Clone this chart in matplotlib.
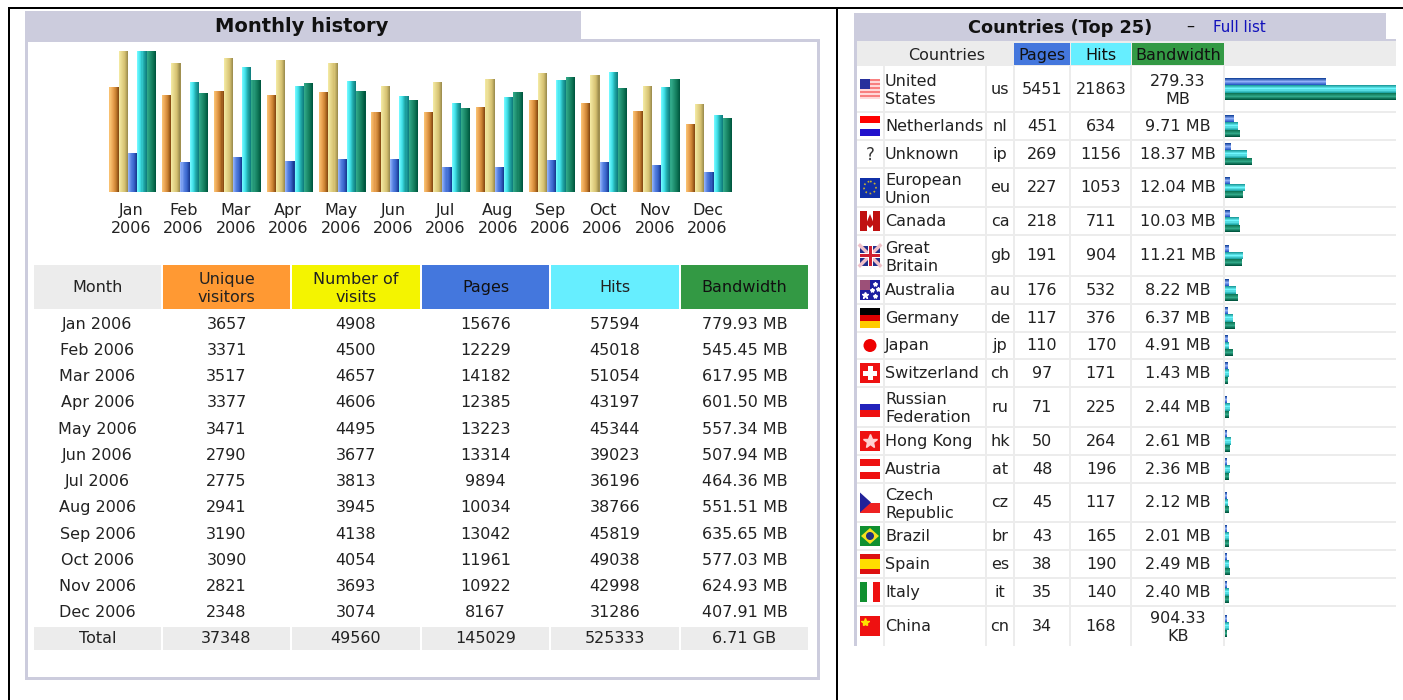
import numpy as np
import matplotlib
matplotlib.use("Agg")
import matplotlib.pyplot as plt
from matplotlib.colors import LinearSegmentedColormap
from matplotlib.patches import Rectangle, Polygon, Circle

W, H = 1403, 700

months = ["Jan", "Feb", "Mar", "Apr", "May", "Jun", "Jul", "Aug", "Sep", "Oct", "Nov", "Dec"]
visitors = [3657, 3371, 3517, 3377, 3471, 2790, 2775, 2941, 3190, 3090, 2821, 2348]
visits = [4908, 4500, 4657, 4606, 4495, 3677, 3813, 3945, 4138, 4054, 3693, 3074]
pages = [15676, 12229, 14182, 12385, 13223, 13314, 9894, 10034, 13042, 11961, 10922, 8167]
hits = [57594, 45018, 51054, 43197, 45344, 39023, 36196, 38766, 45819, 49038, 42998, 31286]
bandwidth = [779.93, 545.45, 617.95, 601.50, 557.34, 507.94, 464.36, 551.51, 635.65, 577.03, 624.93, 407.91]
totals = ["37348", "49560", "145029", "525333", "6.71 GB"]

countries = ["United\nStates", "Netherlands", "Unknown", "European\nUnion", "Canada", "Great\nBritain",
             "Australia", "Germany", "Japan", "Switzerland", "Russian\nFederation", "Hong Kong",
             "Austria", "Czech\nRepublic", "Brazil", "Spain", "Italy", "China"]
codes = ["us", "nl", "ip", "eu", "ca", "gb", "au", "de", "jp", "ch", "ru", "hk", "at", "cz", "br", "es", "it", "cn"]
c_pages = [5451, 451, 269, 227, 218, 191, 176, 117, 110, 97, 71, 50, 48, 45, 43, 38, 35, 34]
c_hits = [21863, 634, 1156, 1053, 711, 904, 532, 376, 170, 171, 225, 264, 196, 117, 165, 190, 140, 168]
c_bw = [279.33, 9.71, 18.37, 12.04, 10.03, 11.21, 8.22, 6.37, 4.91, 1.43, 2.44, 2.61, 2.36, 2.12, 2.01, 2.49, 2.40, 0.883]
c_bw_labels = ["279.33\nMB", "9.71 MB", "18.37 MB", "12.04 MB", "10.03 MB", "11.21 MB", "8.22 MB", "6.37 MB",
               "4.91 MB", "1.43 MB", "2.44 MB", "2.61 MB", "2.36 MB", "2.12 MB", "2.01 MB", "2.49 MB", "2.40 MB",
               "904.33\nKB"]

# layout, pixels
row_edges = [66, 112, 140, 168, 207, 235, 276, 304, 332, 359, 387, 427, 455, 483, 522, 550, 578, 606, 646]
month_cols = [(34, 161), (163, 290), (292, 420), (422, 549), (551, 679), (681, 808)]
month_rows_y = [324, 350, 376, 402, 429, 455, 481, 507, 534, 560, 586, 612]
LAV = "#CCCCDD"
GREY = "#ECECEC"
TXT = "#222222"
FS = 11.5
LS = 1.27

fig = plt.figure(figsize=(W / 100, H / 100), dpi=100)
ax = fig.add_axes([0, 0, 1, 1])
ax.set_xlim(0, W)
ax.set_ylim(H, 0)
ax.axis("off")


def rect(x0, y0, x1, y1, color, z=1):
    ax.add_patch(Rectangle((x0, y0), x1 - x0, y1 - y0, fc=color, ec="none", zorder=z))


def label(x, y, s, ha="center", size=FS, color=TXT, weight="normal"):
    # center_baseline so that descenders do not shift a row up or down
    ax.text(x, y - 1.3, s, ha=ha, va="center_baseline", fontsize=size, color=color, fontweight=weight, zorder=5,
            linespacing=LS)


def sub_axes(x0, y0, x1, y1):
    a = fig.add_axes([x0 / W, 1 - y1 / H, (x1 - x0) / W, (y1 - y0) / H])
    a.patch.set_alpha(0)
    for s in a.spines.values():
        s.set_visible(False)
    a.set_yticks([])
    a.set_xticks([])
    return a


# frame
rect(8, 7, W, 9, "black")
rect(8, 7, 10, H, "black")
rect(836, 7, 838, H, "black")

# left panel
rect(25, 11, 581, 41, LAV)
rect(25, 39, 820, 42, LAV)
rect(25, 39, 28, 680, LAV)
rect(817, 39, 820, 680, LAV)
rect(25, 677, 820, 680, LAV)
label(302, 26, "Monthly history", size=14, color="#111111", weight="bold")

# monthly bars, one scale per unit like the original
n_slices = 9
bar_w = 9.3 / 52.4
bar_series = [
    (visitors, 4908, ["#F8C070", "#E8A050", "#C88030", "#8A4C14"]),
    (visits, 4908, ["#F2E8A0", "#E4D488", "#D4C070", "#A09050"]),
    (pages, 57594, ["#90B0F8", "#5580E0", "#3A66CC", "#1A3C94"]),
    (hits, 57594, ["#70F8FF", "#40E0E8", "#20A8A8", "#108080"]),
    (bandwidth, 779.93, ["#30A888", "#209070", "#107858", "#005840"]),
]
ax_bar = sub_axes(106.55, 51, 735.15, 191.5)
ax_bar.set_xlim(-0.5, 11.5)
ax_bar.set_ylim(0, 1)
for k, (vals, top, stops) in enumerate(bar_series):
    cmap = LinearSegmentedColormap.from_list("b", stops)
    v = np.array(vals) / top
    for s in range(n_slices):
        xpos = np.arange(12) + (k - 2) * bar_w + (s + 0.5 - n_slices / 2) * bar_w / n_slices
        ax_bar.bar(xpos, v, width=bar_w / n_slices * 1.05, color=cmap(s / (n_slices - 1)), lw=0)
ax_bar.set_xticks(np.arange(12) - 0.03)
ax_bar.set_xticklabels([m + "\n2006" for m in months], fontsize=FS, color=TXT, linespacing=LS)
ax_bar.tick_params(axis="x", length=0, pad=8)

# monthly table
head = [("Month", GREY, TXT), ("Unique\nvisitors", "#FF9933", TXT), ("Number of\nvisits", "#F4F400", TXT),
        ("Pages", "#4477DD", "#111111"), ("Hits", "#66EEFF", TXT), ("Bandwidth", "#339944", "#111111")]
for (x0, x1), (txt, col, tc) in zip(month_cols, head):
    rect(x0, 265, x1, 309, col)
    label((x0 + x1) / 2, 287, txt, color=tc)
    rect(x0, 627, x1, 650, GREY)
cx = [(a + b) / 2 for a, b in month_cols]
for i, y in enumerate(month_rows_y):
    label(cx[0], y, months[i] + " 2006")
    label(cx[1], y, str(visitors[i]))
    label(cx[2], y, str(visits[i]))
    label(cx[3], y, str(pages[i]))
    label(cx[4], y, str(hits[i]))
    label(cx[5], y, "%.2f MB" % bandwidth[i])
label(cx[0], 638, "Total")
for c, t in zip(cx[1:], totals):
    label(c, 638, t)

# right panel
rect(854, 13, 1386, 41, LAV)
rect(1386, 39, W - 7, 41, LAV)
rect(854, 13, 857, 646, LAV)
label(968, 27, "Countries (Top 25)", ha="left", size=12.8, color="#111111", weight="bold")
label(1190, 26, "–", color="#111111")
label(1213, 27, "Full list", ha="left", size=10.8, color="#1111BB")
rect(857, 41, 1396, 66, GREY)
rect(1014, 43, 1070, 65, "#4477DD")
rect(1071, 43, 1131, 65, "#66EEFF")
rect(1132, 43, 1224, 65, "#339944")
label(947, 55, "Countries")
label(1042, 55, "Pages", color="#111111")
label(1101, 55, "Hits", color="#111111")
label(1178, 55, "Bandwidth", color="#111111")

for xv in [884, 986, 1014, 1070, 1131, 1224]:
    rect(xv - 0.6, 66, xv + 0.6, 646, GREY)
for i in range(len(codes)):
    y0, y1 = row_edges[i], row_edges[i + 1]
    yc = (y0 + y1) / 2
    if i < len(codes) - 1:
        rect(857, y1 - 0.6, 1396, y1 + 0.6, GREY)
    label(885, yc, countries[i], ha="left")
    label(1000, yc, codes[i])
    label(1042, yc, str(c_pages[i]))
    label(1101, yc, str(c_hits[i]))
    label(1178, yc, c_bw_labels[i])

# country bars, clipped at the table edge just as in the page
ax_h = sub_axes(1225, 66, 1396, 646)
ax_h.set_xlim(0, 171 / 400)
ax_h.set_ylim(646, 66)
ys = np.array([(row_edges[i] + row_edges[i + 1]) / 2 for i in range(len(codes))])
h_series = [
    (c_pages, 21863, -7.3, ["#1A48A0", "#90B0F8", "#2C5CC8"]),
    (c_hits, 21863, 0, ["#20A0A0", "#70F8FF", "#20A8A8"]),
    (c_bw, 279.33, 7.3, ["#107858", "#30A888", "#005840"]),
]
for vals, top, off, stops in h_series:
    cmap = LinearSegmentedColormap.from_list("h", stops)
    w = np.array(vals) / top + 1.0 / 400
    for s in range(7):
        ax_h.barh(ys + off + (s - 3) * 7.3 / 7, w, height=7.3 / 7 * 1.05, color=cmap(s / 6), lw=0)


# flags, simple vector versions of the gif icons
def flag_stripes_h(yc, cols, x0=860, x1=880, h=20):
    n = len(cols)
    for j, c in enumerate(cols):
        rect(x0, yc - h / 2 + j * h / n, x1, yc - h / 2 + (j + 1) * h / n, c, z=3)


def flag_stripes_v(yc, cols, x0=860, x1=880, h=20):
    n = len(cols)
    d = (x1 - x0) / n
    for j, c in enumerate(cols):
        rect(x0 + j * d, yc - h / 2, x0 + (j + 1) * d, yc + h / 2, c, z=3)


yc = dict(zip(codes, ys))
flag_stripes_h(yc["us"], ["#F88080", "#FFD8D8"] * 5)
rect(860, yc["us"] - 10, 870, yc["us"], "#28309C", z=4)
flag_stripes_h(yc["nl"], ["#FF0000", "#FFFFFF", "#2211CC"])
label(870, yc["ip"], "?", size=12, color="#333333")
flag_stripes_h(yc["eu"], ["#1030A8"])
ax.add_patch(Circle((870, yc["eu"]), 6, fc="none", ec="#C8B030", lw=1.2, ls=":", zorder=4))
flag_stripes_v(yc["ca"], ["#C01010", "#FFFFFF", "#C01010"])
ax.add_patch(Polygon([(870, yc["ca"] - 7), (874, yc["ca"] + 3), (870, yc["ca"] + 7), (866, yc["ca"] + 3)],
                     fc="#C01010", ec="none", zorder=4))
flag_stripes_h(yc["gb"], ["#20308C"])
g = yc["gb"]
ax.plot([860, 880], [g - 10, g + 10], color="#F0C0C8", lw=2.5, zorder=4)
ax.plot([860, 880], [g + 10, g - 10], color="#F0C0C8", lw=2.5, zorder=4)
rect(867.5, g - 10, 872.5, g + 10, "white", z=4)
rect(860, g - 2.5, 880, g + 2.5, "white", z=4)
rect(868.5, g - 10, 871.5, g + 10, "#D02030", z=5)
rect(860, g - 1.5, 880, g + 1.5, "#D02030", z=5)
flag_stripes_h(yc["au"], ["#1C20A0"])
a = yc["au"]
rect(860, a - 10, 870, a, "#9C5078", z=4)
ax.plot([875, 875, 872, 878], [a - 6, a + 6, a, a - 1], ls="", marker="*", ms=3, color="white", zorder=5)
ax.plot([865], [a + 5], marker="*", ms=4.5, color="white", zorder=5)
flag_stripes_h(yc["de"], ["#000000", "#DD0000", "#FFCC00"])
ax.add_patch(Circle((870, yc["jp"]), 6.5, fc="#EE0000", ec="none", zorder=3))
flag_stripes_h(yc["ch"], ["#EE1111"])
rect(867.5, yc["ch"] - 7, 872.5, yc["ch"] + 7, "white", z=4)
rect(863, yc["ch"] - 2.5, 877, yc["ch"] + 2.5, "white", z=4)
flag_stripes_h(yc["ru"], ["#FFFFFF", "#2222BB", "#EE1111"])
flag_stripes_h(yc["hk"], ["#EE1111"])
ax.plot([870], [yc["hk"]], marker="*", ms=10, color="#FFD0D0", zorder=4)
flag_stripes_h(yc["at"], ["#EE1111", "#FFFFFF", "#EE1111"])
c = yc["cz"]
flag_stripes_h(c, ["#FFFFFF", "#EE2222"])
ax.add_patch(Polygon([(860, c - 10), (871, c), (860, c + 10)], fc="#222299", ec="none", zorder=4))
flag_stripes_h(yc["br"], ["#109030"])
b = yc["br"]
ax.add_patch(Polygon([(861, b), (870, b - 8), (879, b), (870, b + 8)], fc="#F4E020", ec="none", zorder=4))
ax.add_patch(Circle((870, b), 4, fc="#203080", ec="none", zorder=5))
e = yc["es"]
rect(860, e - 10, 880, e + 10, "#DD1111", z=3)
rect(860, e - 5, 880, e + 5, "#FFDD00", z=4)
flag_stripes_v(yc["it"], ["#109030", "#FFFFFF", "#EE1111"])
flag_stripes_h(yc["cn"], ["#EE1111"])
ax.plot([865], [yc["cn"] - 4], marker="*", ms=6, color="#FFE000", zorder=4)

fig.savefig("out.png", dpi=100)
